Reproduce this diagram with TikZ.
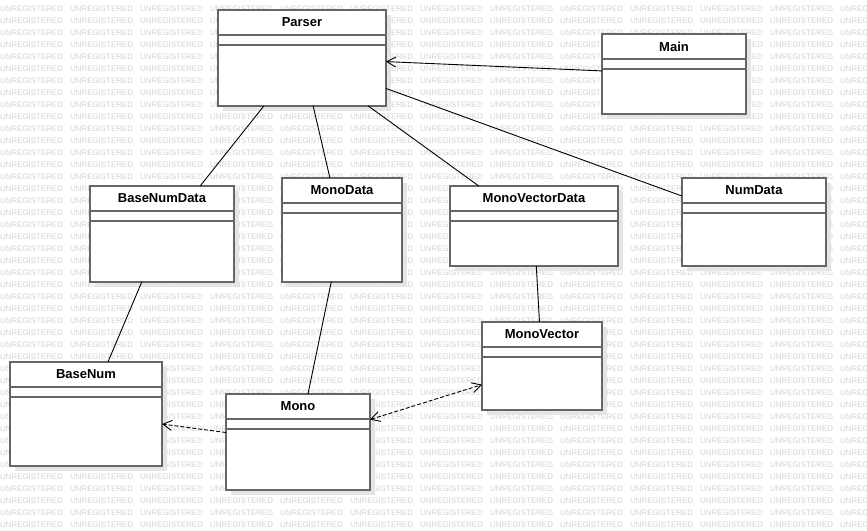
\documentclass[tikz,border=0pt]{standalone}
\usepackage{fontspec}
\setmainfont{Liberation Sans}
\usetikzlibrary{arrows.meta,shadows,calc}
\tikzset{
  umlbox/.style={draw=black!60, line width=1.6pt, fill=white, rectangle, inner sep=0pt, outer sep=0pt,
    drop shadow={shadow xshift=5pt, shadow yshift=-5pt, fill=black!10, opacity=1}},
  umltitle/.style={font=\bfseries\fontsize{13}{15}\selectfont, inner sep=0pt},
  wm/.style={font=\fontsize{7.9}{8}\selectfont, text=black!17, inner sep=0pt, anchor=west},
  assoc/.style={draw=black, line width=0.9pt},
  dep/.style={draw=black, line width=0.9pt, dash pattern=on 4pt off 2pt},
  vtip/.tip={Straight Barb[length=9pt,width=10pt,line width=0.9pt]}
}
\newcommand{\umlclass}[6]{%
  \node[umlbox, minimum width=#4pt, minimum height=#5pt] (#1) at (#2,#3) {};
  \node[umltitle] (#1-t) at ($(#1.north)+(0,12.5)$) {#6};
  \draw[draw=black!60, line width=1.6pt] ($(#1.north west)+(0,25)$) -- ($(#1.north east)+(0,25)$);
  \draw[draw=black!60, line width=1.6pt] ($(#1.north west)+(0,35)$) -- ($(#1.north east)+(0,35)$);
}
\begin{document}
\begin{tikzpicture}[x=1pt,y=-1pt]
\useasboundingbox (0,0) rectangle (867,530);
\fill[white] (0,0) rectangle (867,530);
\foreach \r in {0,...,43}{
  \foreach \c in {0,...,12}{
    \node[wm] at (\c*70, 9+\r*12) {UNREGISTERED};
  }
}
\umlclass{parser}{302}{58}{168}{96}{Parser}
\umlclass{main}{674}{74}{144}{80}{Main}
\umlclass{basenumdata}{162}{234}{144}{96}{BaseNumData}
\umlclass{monodata}{342}{230}{120}{104}{MonoData}
\umlclass{monovectordata}{534}{226}{168}{80}{MonoVectorData}
\umlclass{numdata}{754}{222}{144}{88}{NumData}
\umlclass{monovector}{542}{366}{120}{88}{MonoVector}
\umlclass{basenum}{86}{414}{152}{104}{BaseNum}
\umlclass{mono}{298}{442}{144}{96}{Mono}

\draw[assoc, -vtip] (main) -- (parser);
\draw[assoc] (parser) -- (numdata);
\draw[assoc] (parser) -- (basenumdata);
\draw[assoc] (parser) -- (monodata);
\draw[assoc] (parser) -- (monovectordata);
\draw[assoc] (basenumdata) -- (basenum);
\draw[assoc] (monodata) -- (mono);
\draw[assoc] (monovectordata) -- (monovector);
\draw[dep, vtip-vtip] (mono) -- (monovector);
\draw[dep, -vtip] (mono) -- (basenum);
\end{tikzpicture}
\end{document}
